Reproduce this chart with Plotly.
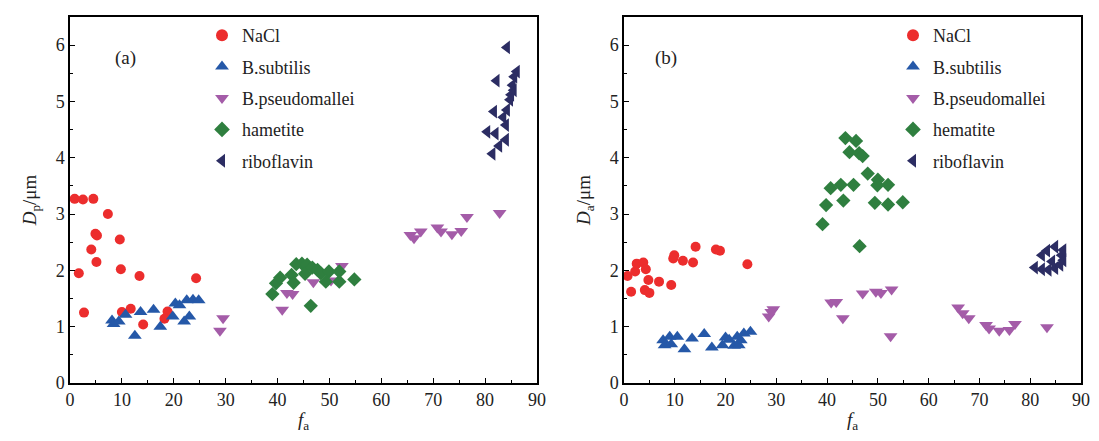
import plotly.graph_objects as go

# ---------------- data: panel (a) D_p vs f_a ----------------
a_nacl_x = [0.9, 2.5, 4.5, 7.3, 4.9, 5.2, 9.6, 4.1, 5.1, 1.7, 9.8, 13.4, 24.3, 2.7, 10.0, 11.7, 14.1, 18.8, 18.2]
a_nacl_y = [3.27, 3.26, 3.27, 3.00, 2.65, 2.62, 2.55, 2.37, 2.15, 1.95, 2.02, 1.90, 1.86, 1.25, 1.26, 1.32, 1.04, 1.27, 1.14]

a_bsub_x = [8.1, 8.4, 9.4, 10.7, 13.6, 12.5, 16.1, 17.4, 19.8, 20.3, 21.1, 22.0, 23.0, 22.5, 23.7, 24.8]
a_bsub_y = [1.11, 1.05, 1.09, 1.21, 1.26, 0.84, 1.30, 1.00, 1.18, 1.41, 1.38, 1.09, 1.18, 1.47, 1.48, 1.47]

a_bpse_x = [29.5, 28.9, 40.9, 41.8, 42.9, 46.9, 50.3, 52.4, 65.6, 66.3, 67.6, 70.8, 71.5, 73.6, 75.4, 76.5, 82.8]
a_bpse_y = [1.15, 0.93, 1.30, 1.60, 1.58, 1.79, 1.82, 2.08, 2.63, 2.57, 2.69, 2.76, 2.69, 2.64, 2.70, 2.95, 3.02]

a_hema_x = [39.0, 39.7, 40.5, 42.7, 43.1, 43.6, 44.7, 45.7, 45.3, 46.7, 47.7, 48.3, 49.9, 49.3, 51.9, 51.9, 54.8, 46.4]
a_hema_y = [1.58, 1.77, 1.87, 1.92, 1.78, 2.11, 2.12, 2.10, 1.94, 2.05, 2.01, 1.95, 1.98, 1.80, 1.98, 1.80, 1.84, 1.37]

a_ribo_x = [84.2, 82.2, 86.1, 85.6, 85.3, 85.5, 85.0, 84.8, 81.7, 84.2, 83.5, 84.0, 80.4, 82.0, 84.0, 82.7, 81.4]
a_ribo_y = [5.96, 5.37, 5.53, 5.44, 5.29, 5.20, 5.12, 5.03, 4.82, 4.85, 4.72, 4.58, 4.46, 4.43, 4.32, 4.21, 4.07]

# ---------------- data: panel (b) D_a vs f_a ----------------
b_nacl_x = [0.7, 1.4, 2.2, 2.5, 3.8, 4.3, 4.8, 4.1, 5.0, 6.9, 9.3, 9.9, 9.7, 11.6, 13.6, 14.1, 18.1, 18.9, 24.3]
b_nacl_y = [1.90, 1.62, 1.98, 2.12, 2.14, 2.02, 1.83, 1.65, 1.60, 1.80, 1.74, 2.27, 2.21, 2.17, 2.14, 2.42, 2.37, 2.35, 2.11]

b_bsub_x = [7.7, 8.0, 9.0, 9.3, 10.5, 11.9, 13.4, 15.8, 17.3, 19.4, 20.0, 20.7, 21.7, 22.3, 22.6, 23.6, 24.9, 23.0]
b_bsub_y = [0.76, 0.67, 0.82, 0.69, 0.82, 0.60, 0.79, 0.87, 0.63, 0.67, 0.81, 0.77, 0.66, 0.82, 0.67, 0.88, 0.91, 0.76]

b_bpse_x = [29.4, 28.5, 29.0, 40.8, 41.8, 43.1, 47.0, 49.6, 50.6, 52.7, 52.5, 65.8, 66.7, 67.9, 71.3, 71.9, 73.9, 75.9, 77.0, 83.3]
b_bpse_y = [1.31, 1.18, 1.26, 1.43, 1.44, 1.15, 1.59, 1.62, 1.60, 1.66, 0.83, 1.34, 1.24, 1.15, 1.03, 0.97, 0.93, 0.94, 1.05, 0.99]

b_hema_x = [43.6, 45.7, 44.4, 46.3, 47.0, 48.0, 50.0, 49.9, 52.0, 40.7, 42.7, 45.2, 39.8, 43.2, 49.4, 52.0, 54.9, 39.1, 46.4]
b_hema_y = [4.35, 4.30, 4.10, 4.08, 4.03, 3.72, 3.61, 3.51, 3.52, 3.46, 3.52, 3.52, 3.16, 3.24, 3.20, 3.17, 3.21, 2.82, 2.43]

b_ribo_x = [83.3, 84.9, 82.3, 86.2, 86.5, 80.9, 82.3, 83.6, 84.9, 85.9, 84.3, 86.5]
b_ribo_y = [2.35, 2.42, 2.27, 2.27, 2.18, 2.05, 2.02, 2.01, 2.04, 2.10, 2.16, 2.36]

names_a = ["NaCl", "B.subtilis", "B.pseudomallei", "hametite", "riboflavin"]
names_b = ["NaCl", "B.subtilis", "B.pseudomallei", "hematite", "riboflavin"]
colors = ["#ec2d2d", "#2558a8", "#a45ca8", "#2f7f3f", "#2c2d63"]
symbols = ["circle", "triangle-up", "triangle-down", "diamond", "triangle-left"]
sizes = [10, 12, 12, 11, 12]

series_a = [(a_nacl_x, a_nacl_y), (a_bsub_x, a_bsub_y), (a_bpse_x, a_bpse_y),
            (a_hema_x, a_hema_y), (a_ribo_x, a_ribo_y)]
series_b = [(b_nacl_x, b_nacl_y), (b_bsub_x, b_bsub_y), (b_bpse_x, b_bpse_y),
            (b_hema_x, b_hema_y), (b_ribo_x, b_ribo_y)]

FONT = "Liberation Serif"
fig = go.Figure()

for i, (x, y) in enumerate(series_a):
    fig.add_trace(go.Scatter(x=x, y=y, mode="markers", name=names_a[i],
                             marker=dict(symbol=symbols[i], color=colors[i], size=sizes[i], line=dict(width=0)),
                             xaxis="x", yaxis="y", legend="legend", legendgroup="a%d" % i))
for i, (x, y) in enumerate(series_b):
    fig.add_trace(go.Scatter(x=x, y=y, mode="markers", name=names_b[i],
                             marker=dict(symbol=symbols[i], color=colors[i], size=sizes[i], line=dict(width=0)),
                             xaxis="x2", yaxis="y2", legend="legend2", legendgroup="b%d" % i))

# page body has an 8px margin; figure sized to fit inside the window
OFF = 8
W, H = 1083, 425
def px_x(p):
    return (p - OFF) / W
def px_y(p):
    return 1 - (p - OFF) / H

axis_common = dict(showline=True, linecolor="black", linewidth=1.5, mirror=True,
                   ticks="inside", ticklen=5, tickwidth=1, tickcolor="black",
                   showgrid=False, zeroline=False, automargin=False,
                   ticklabeloverflow="allow",
                   tickfont=dict(family=FONT, size=18, color="#222"))

xa = dict(axis_common, range=[0, 90], dtick=10, tick0=0,
          minor=dict(ticks="inside", ticklen=3, dtick=5, tickcolor="black", tickwidth=1),
          title=dict(text="<i>f</i><sub>a</sub>", font=dict(family=FONT, size=19, color="#222"), standoff=10))
ya = dict(axis_common, range=[0, 6.5], dtick=1, tick0=0,
          minor=dict(ticks="inside", ticklen=3, dtick=0.5, tickcolor="black", tickwidth=1))

legend_common = dict(font=dict(family=FONT, size=18, color="#222"), bgcolor="rgba(0,0,0,0)",
                     tracegroupgap=5, traceorder="grouped", yanchor="top", xanchor="left",
                     itemsizing="constant")

fig.update_layout(
    width=W, height=H, margin=dict(l=0, r=0, t=0, b=0, autoexpand=False),
    plot_bgcolor="white", paper_bgcolor="white",
    xaxis=dict(xa, domain=[px_x(70), px_x(537)], anchor="y"),
    yaxis=dict(ya, domain=[px_y(383), px_y(17)], anchor="x",
               title=dict(text="<i>D</i><sub>p</sub>/μm", font=dict(family=FONT, size=19, color="#222"), standoff=14)),
    xaxis2=dict(xa, domain=[px_x(624), px_x(1081)], anchor="y2"),
    yaxis2=dict(ya, domain=[px_y(383), px_y(17)], anchor="x2",
                title=dict(text="<i>D</i><sub>a</sub>/μm", font=dict(family=FONT, size=19, color="#222"), standoff=14)),
    legend=dict(legend_common, x=px_x(202), y=px_y(17)),
    legend2=dict(legend_common, x=px_x(893), y=px_y(17)),
    showlegend=True,
    annotations=[
        dict(text="(a)", x=px_x(113), y=px_y(45), xref="paper", yref="paper", showarrow=False,
             font=dict(family=FONT, size=19, color="#222")),
        dict(text="(b)", x=px_x(666), y=px_y(45), xref="paper", yref="paper", showarrow=False,
             font=dict(family=FONT, size=19, color="#222")),
    ],
)

fig.write_html("out.html", config={"displayModeBar": False})
